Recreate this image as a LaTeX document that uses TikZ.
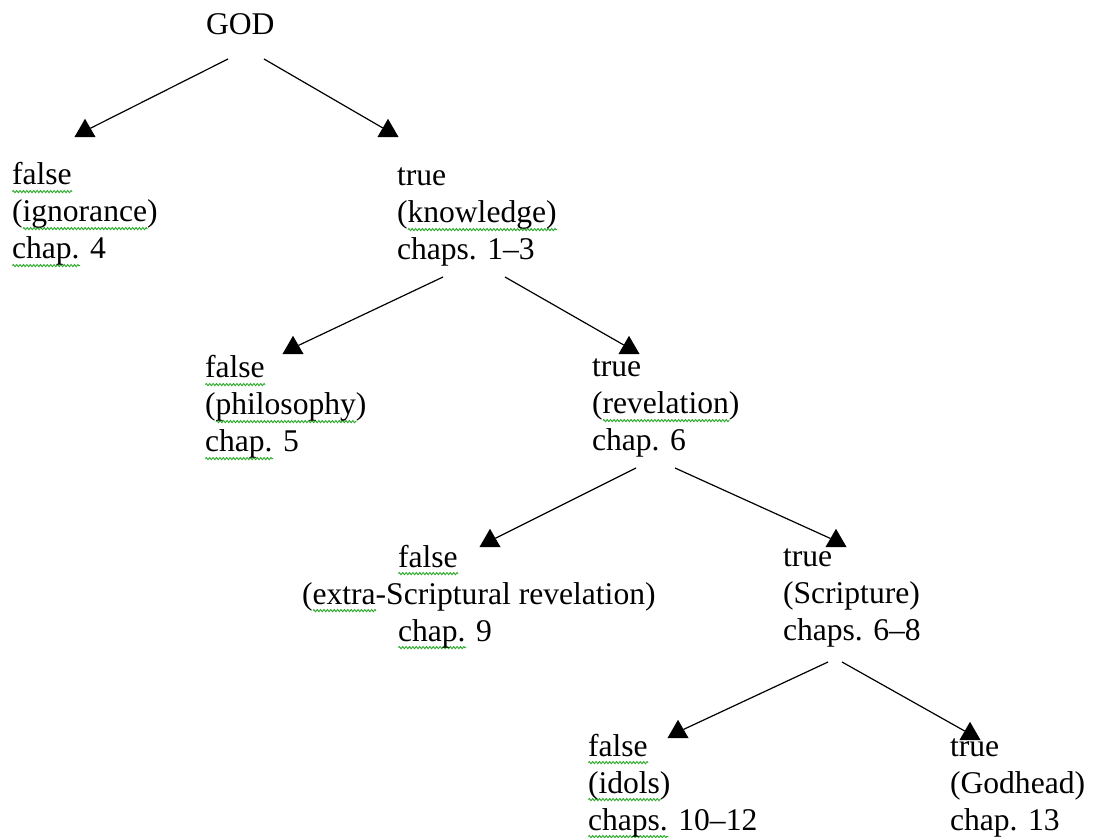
\documentclass[tikz,border=0pt]{standalone}
\usepackage{fontspec}
\setmainfont{Liberation Serif}
\usetikzlibrary{shapes.geometric,decorations.pathmorphing}
\definecolor{sqgreen}{RGB}{40,170,40}
% green wavy underline, like a grammar-check mark
\newlength\sqw
\newcommand\sq[1]{\settowidth\sqw{#1}%
  \rlap{\tikz[x=1pt,y=1pt,baseline=0pt]\draw[sqgreen,line width=0.45pt,
    decorate,decoration={zigzag,segment length=1.7pt,amplitude=0.55pt}]
    (0,-3.3) -- (\sqw,-3.3);}#1}

\begin{document}
\begin{tikzpicture}[x=0.5pt,y=-0.5pt,
  % multi-line nodes: the base anchor sits on the last line
  txt/.style={anchor=base west,inner sep=0pt,outer sep=0pt,align=left,
              font=\fontsize{15.8pt}{18.5pt}\selectfont},
  tip/.style={regular polygon,regular polygon sides=3,fill=black,
              inner sep=0pt,outer sep=0pt,minimum size=12.2pt},
  link/.style={line width=0.6pt}]
\useasboundingbox (0,0) rectangle (1117,838);

% text of the tree
\node[txt] (god) at (206,35) {GOD};
\node[txt] (n1) at (12,259)  {\sq{false}\\(\sq{ignorance})\\\sq{chap.} 4};
\node[txt] (n2) at (397,260) {true\\(\sq{knowledge)}\\chaps. 1–3};
\node[txt] (n3) at (205,452) {\sq{false}\\(\sq{philosophy})\\\sq{chap.} 5};
\node[txt] (n4) at (592,451) {true\\(\sq{revelation})\\chap. 6};
\node[txt] (n5) at (398,641) {\sq{false}\\\hspace*{-48pt}(\sq{extra}-Scriptural revelation)\\\sq{chap.} 9};
\node[txt] (n6) at (783,640) {true\\(Scripture)\\chaps. 6–8};
\node[txt] (n7) at (588,830) {\sq{false}\\\sq{(idols})\\\sq{chaps.} 10–12};
\node[txt] (n8) at (950,830) {true\\(Godhead)\\chap. 13};

% arrow tips
\node[tip] (t1a) at (85,131) {};
\node[tip] (t1b) at (388,131) {};
\node[tip] (t2a) at (293,348) {};
\node[tip] (t2b) at (629,348) {};
\node[tip] (t3a) at (490,541) {};
\node[tip] (t3b) at (836,541) {};
\node[tip] (t4a) at (678,732) {};
\node[tip] (t4b) at (970,734) {};

% start points of the branches
\coordinate (s1a) at (228,59);
\coordinate (s1b) at (264,59);
\coordinate (s2a) at (443,277);
\coordinate (s2b) at (505,277);
\coordinate (s3a) at (636,468);
\coordinate (s3b) at (675,468);
\coordinate (s4a) at (828,662);
\coordinate (s4b) at (842,662);

% branches
\draw[link] (s1a) -- (t1a);
\draw[link] (s1b) -- (t1b);
\draw[link] (s2a) -- (t2a);
\draw[link] (s2b) -- (t2b);
\draw[link] (s3a) -- (t3a);
\draw[link] (s3b) -- (t3b);
\draw[link] (s4a) -- (t4a);
\draw[link] (s4b) -- (t4b);
\end{tikzpicture}
\end{document}
